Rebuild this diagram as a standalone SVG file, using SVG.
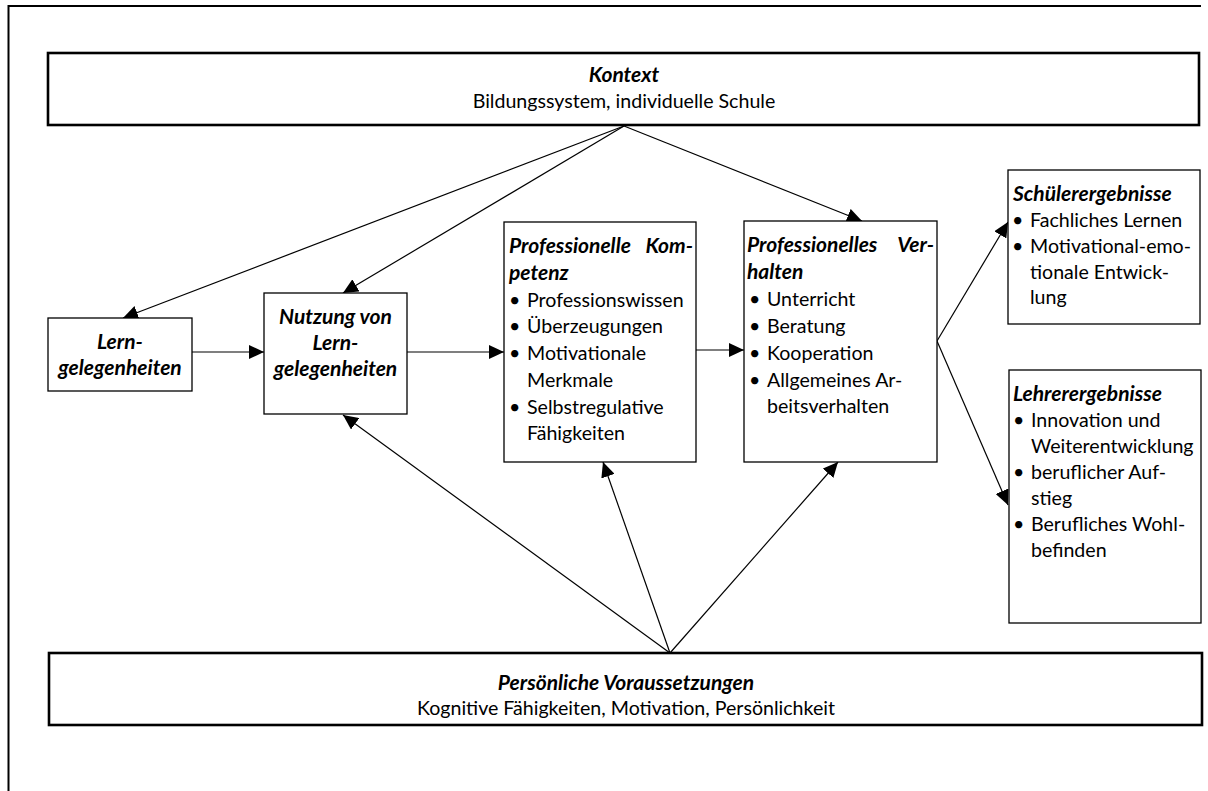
<svg xmlns="http://www.w3.org/2000/svg" width="1208" height="791" viewBox="0 0 1208 791">
<defs>
<style>
.t{font-family:Lato,"Liberation Sans",sans-serif;font-size:19.6px;fill:#000}
.h{font-weight:bold;font-style:italic;font-size:21px}
.c{text-anchor:middle}
.e{text-anchor:end}
.big{fill:#fff;stroke:#000;stroke-width:2.6}
.box{fill:#fff;stroke:#000;stroke-width:1.3}
.ln{stroke:#000;stroke-width:1.2;fill:none;marker-end:url(#ah)}
</style>
<marker id="ah" markerWidth="16" markerHeight="14" refX="15" refY="7" orient="auto" markerUnits="userSpaceOnUse">
<path d="M0,0 L15,7 L0,14 Z" fill="#000"/>
</marker>
</defs>
<rect width="1208" height="791" fill="#fff"/>
<path d="M1201,6 H8.5 V791" fill="none" stroke="#000" stroke-width="2"/>

<g id="connectors">
<line class="ln" x1="624" y1="126" x2="123" y2="318"/>
<line class="ln" x1="624" y1="126" x2="343" y2="293"/>
<line class="ln" x1="624" y1="126" x2="862" y2="221"/>
<line class="ln" x1="192" y1="352" x2="264" y2="352"/>
<line class="ln" x1="407" y1="352" x2="504" y2="352"/>
<line class="ln" x1="696" y1="350" x2="744" y2="350"/>
<line class="ln" x1="670" y1="653" x2="343" y2="415"/>
<line class="ln" x1="670" y1="653" x2="603" y2="462"/>
<line class="ln" x1="670" y1="653" x2="838" y2="462"/>
<line class="ln" x1="937" y1="341" x2="1008" y2="222"/>
<line class="ln" x1="937" y1="341" x2="1008" y2="505"/>
</g>

<g id="kontext">
<rect class="big" x="48" y="53" width="1151" height="72"/>
<text class="t h c" x="624" y="82">Kontext</text>
<text class="t c" x="624" y="108">Bildungssystem, individuelle Schule</text>
</g>

<g id="lerngelegenheiten">
<rect class="box" x="48" y="318" width="144" height="73"/>
<text class="t h c" x="120" y="349">Lern-</text>
<text class="t h c" x="120" y="375">gelegenheiten</text>
</g>

<g id="nutzung">
<rect class="box" x="264" y="293" width="143" height="121"/>
<text class="t h c" x="335.5" y="324">Nutzung von</text>
<text class="t h c" x="335.5" y="350">Lern-</text>
<text class="t h c" x="335.5" y="376">gelegenheiten</text>
</g>

<g id="kompetenz">
<rect class="box" x="504" y="222" width="192" height="240"/>
<text class="t h" x="509" y="253">Professionelle</text>
<text class="t h e" x="693" y="253">Kom-</text>
<text class="t h" x="509" y="280">petenz</text>
<text class="t" x="509" y="307">•</text><text class="t" x="527" y="307">Professionswissen</text>
<text class="t" x="509" y="333">•</text><text class="t" x="527" y="333">Überzeugungen</text>
<text class="t" x="509" y="360">•</text><text class="t" x="527" y="360">Motivationale</text>
<text class="t" x="527" y="387">Merkmale</text>
<text class="t" x="509" y="414">•</text><text class="t" x="527" y="414">Selbstregulative</text>
<text class="t" x="527" y="440">Fähigkeiten</text>
</g>

<g id="verhalten">
<rect class="box" x="744" y="221" width="193" height="241"/>
<text class="t h" x="747" y="252">Professionelles</text>
<text class="t h e" x="934" y="252">Ver-</text>
<text class="t h" x="747" y="279">halten</text>
<text class="t" x="749" y="306">•</text><text class="t" x="767" y="306">Unterricht</text>
<text class="t" x="749" y="333">•</text><text class="t" x="767" y="333">Beratung</text>
<text class="t" x="749" y="360">•</text><text class="t" x="767" y="360">Kooperation</text>
<text class="t" x="749" y="387">•</text><text class="t" x="767" y="387">Allgemeines Ar-</text>
<text class="t" x="767" y="413">beitsverhalten</text>
</g>

<g id="schuelerergebnisse">
<rect class="box" x="1008" y="170" width="192" height="154"/>
<text class="t h" x="1013" y="201">Schülerergebnisse</text>
<text class="t" x="1012" y="227">•</text><text class="t" x="1030" y="227">Fachliches Lernen</text>
<text class="t" x="1012" y="253">•</text><text class="t" x="1030" y="253">Motivational-emo-</text>
<text class="t" x="1030" y="279">tionale Entwick-</text>
<text class="t" x="1030" y="304">lung</text>
</g>

<g id="lehrerergebnisse">
<rect class="box" x="1009" y="370" width="192" height="253"/>
<text class="t h" x="1013" y="401">Lehrerergebnisse</text>
<text class="t" x="1013" y="427">•</text><text class="t" x="1031" y="427">Innovation und</text>
<text class="t" x="1031" y="453">Weiterentwicklung</text>
<text class="t" x="1013" y="479">•</text><text class="t" x="1031" y="479">beruflicher Auf-</text>
<text class="t" x="1031" y="505">stieg</text>
<text class="t" x="1013" y="531">•</text><text class="t" x="1031" y="531">Berufliches Wohl-</text>
<text class="t" x="1031" y="557">befinden</text>
</g>

<g id="voraussetzungen">
<rect class="big" x="49" y="653" width="1153" height="72"/>
<text class="t h c" x="626" y="690">Persönliche Voraussetzungen</text>
<text class="t c" x="626" y="715">Kognitive Fähigkeiten, Motivation, Persönlichkeit</text>
</g>
</svg>
